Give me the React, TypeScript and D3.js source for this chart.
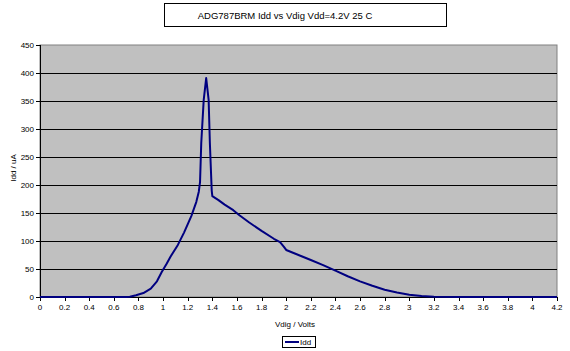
import React from "react";
import * as d3 from "d3";

const titleText = "ADG787BRM Idd vs Vdig Vdd=4.2V 25 C";
const xLabel = "Vdig / Volts";
const yLabel = "Idd / uA";
const seriesName = "Idd";

const vdig = [0, 0.2, 0.4, 0.6, 0.7, 0.73, 0.78, 0.84, 0.9, 0.95, 0.99, 1.03, 1.06, 1.12, 1.17, 1.23, 1.27, 1.29, 1.3, 1.31, 1.33, 1.35, 1.37, 1.38, 1.395, 1.4, 1.45, 1.5, 1.57, 1.62, 1.7, 1.8, 1.9, 1.95, 1.98, 2.0, 2.1, 2.2, 2.3, 2.4, 2.5, 2.6, 2.7, 2.8, 2.9, 3.0, 3.1, 3.2, 3.4, 3.6, 3.8, 4.0, 4.2];
const idd = [0, 0, 0, 0, 0, 0.5, 3, 7, 15, 28, 45, 60, 72, 93, 115, 145, 170, 188, 205, 275, 352, 391, 352, 275, 190, 180, 173, 165, 155, 146, 133, 118, 104, 98, 90, 84, 75, 66, 57, 47, 37, 28, 20, 13, 8, 4, 2, 0.5, 0, 0, 0, 0, 0];

const xTicks = [0, 0.2, 0.4, 0.6, 0.8, 1, 1.2, 1.4, 1.6, 1.8, 2, 2.2, 2.4, 2.6, 2.8, 3, 3.2, 3.4, 3.6, 3.8, 4, 4.2];
const yTicks = [0, 50, 100, 150, 200, 250, 300, 350, 400, 450];

const W = 570;
const H = 351;
const left = 40, right = 557, top = 45, bottom = 297;
const font = "'Liberation Sans', Arial, sans-serif";

export default function App() {
  const x = d3.scaleLinear().domain([0, 4.2]).range([left, right]);
  const y = d3.scaleLinear().domain([0, 450]).range([bottom, top]);
  const pts = vdig.map((v, i) => [v, idd[i]] as [number, number]);
  const line = d3.line<[number, number]>().x(d => x(d[0])).y(d => y(d[1]));
  const fmt = (v: number) => (Math.abs(v - Math.round(v)) < 1e-9 ? String(Math.round(v)) : String(+v.toFixed(1)));

  return (
    <svg width={W} height={H} style={{ position: "absolute", left: 0, top: 0, background: "#fff" }}>
      <rect x={0} y={0} width={W} height={H} fill="#fff" />
      {/* title */}
      <rect x={164.5} y={3.5} width={282} height={23} fill="#fff" stroke="#000" strokeWidth={1} />
      <text x={285} y={19} textAnchor="middle" fontFamily={font} fontSize={9.5} fill="#000">{titleText}</text>
      {/* plot area */}
      <rect x={left} y={top} width={right - left} height={bottom - top} fill="#c0c0c0" stroke="#808080" strokeWidth={1} />
      {yTicks.filter(t => t > 0 && t < 450).map(t => (
        <line key={"g" + t} x1={left} x2={right} y1={Math.round(y(t)) + 0.5} y2={Math.round(y(t)) + 0.5} stroke="#000" strokeWidth={1} />
      ))}
      {/* axes */}
      <line x1={left + 0.5} x2={left + 0.5} y1={top} y2={bottom} stroke="#000" />
      <line x1={left} x2={right} y1={bottom + 0.5} y2={bottom + 0.5} stroke="#000" />
      {yTicks.map(t => (
        <g key={"y" + t}>
          <line x1={left - 4} x2={left} y1={Math.round(y(t)) + 0.5} y2={Math.round(y(t)) + 0.5} stroke="#000" />
          <text x={34} y={y(t) + 3} textAnchor="end" fontFamily={font} fontSize={8} fill="#000">{t}</text>
        </g>
      ))}
      {xTicks.map(t => (
        <g key={"x" + t}>
          <line x1={Math.round(x(t)) + 0.5} x2={Math.round(x(t)) + 0.5} y1={bottom} y2={bottom + 4} stroke="#000" />
          <text x={x(t)} y={310} textAnchor="middle" fontFamily={font} fontSize={8} fill="#000">{fmt(t)}</text>
        </g>
      ))}
      {/* data line */}
      <path d={line(pts) || ""} fill="none" stroke="#000080" strokeWidth={2} strokeLinejoin="round" />
      {/* axis titles */}
      <text x={295} y={327} textAnchor="middle" fontFamily={font} fontSize={8} fill="#000">{xLabel}</text>
      <text transform="translate(16,168) rotate(-90)" textAnchor="middle" fontFamily={font} fontSize={8} fill="#000">{yLabel}</text>
      {/* legend */}
      <rect x={282.5} y={336.5} width={33} height={11} fill="#fff" stroke="#000" />
      <line x1={285} x2={299} y1={342} y2={342} stroke="#000080" strokeWidth={2} />
      <text x={300} y={345} fontFamily={font} fontSize={8} fill="#000">{seriesName}</text>
    </svg>
  );
}
